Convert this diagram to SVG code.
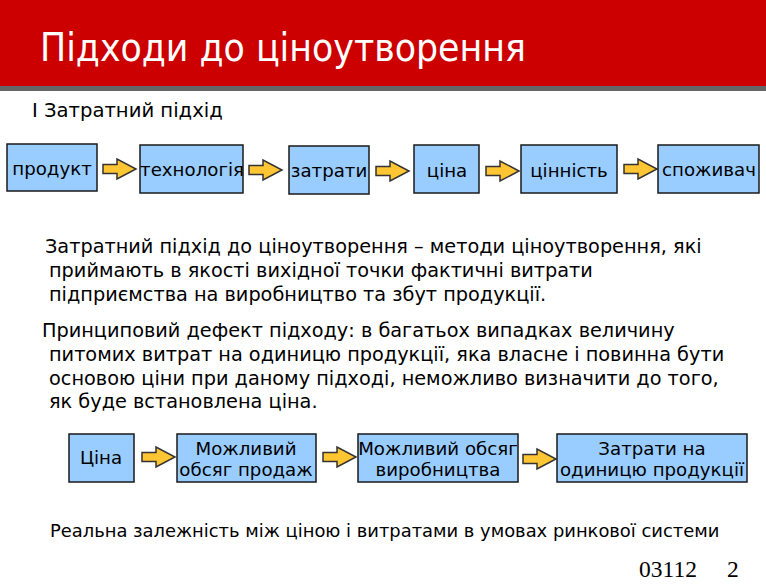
<svg xmlns="http://www.w3.org/2000/svg" width="766" height="586" viewBox="0 0 766 586">
<defs>
<style>
.box{fill:#99ccff;stroke:#1a1a1a;stroke-width:1.5}
.arr{fill:#ffc533;stroke:#333;stroke-width:1.5;stroke-linejoin:miter}
.t{font-family:"DejaVu Sans","Liberation Sans",sans-serif;fill:#000}
.bt{font-family:"DejaVu Sans","Liberation Sans",sans-serif;font-size:19.3px;fill:#000}
.bb{font-family:"DejaVu Sans","Liberation Sans",sans-serif;font-size:18.2px;fill:#000;text-anchor:middle}
</style>
<path id="ar" d="M0,-4.5 H14 V-10 L33,0 L14,10 V4.5 H0 Z"/>
</defs>
<rect x="0" y="0" width="766" height="86" fill="#cc0000"/>
<rect x="0" y="86" width="766" height="5" fill="#666666"/>
<text x="40" y="61" class="t" font-size="38.7" style="fill:#fff;font-stretch:condensed">Підходи до ціноутворення</text>
<text x="32" y="117" class="t" font-size="19.6">І Затратний підхід</text>

<g id="connectors">
<use href="#ar" class="arr" x="103" y="169"/>
<use href="#ar" class="arr" x="249" y="170"/>
<use href="#ar" class="arr" x="376" y="171"/>
<use href="#ar" class="arr" x="486" y="171"/>
<use href="#ar" class="arr" x="624" y="169"/>
<use href="#ar" class="arr" x="142" y="457"/>
<use href="#ar" class="arr" x="323" y="457"/>
<use href="#ar" class="arr" x="523" y="459"/>
</g>

<g id="n1"><rect class="box" x="7" y="144" width="90" height="47"/><text class="bb" x="52" y="175">продукт</text></g>
<g id="n2"><rect class="box" x="140" y="145" width="103" height="48"/><text class="bb" x="192" y="176">технологія</text></g>
<g id="n3"><rect class="box" x="289" y="146" width="80" height="48"/><text class="bb" x="329" y="177">затрати</text></g>
<g id="n4"><rect class="box" x="414" y="145" width="65" height="48"/><text class="bb" x="447" y="177">ціна</text></g>
<g id="n5"><rect class="box" x="521" y="145" width="96" height="48"/><text class="bb" x="569" y="177">цінність</text></g>
<g id="n6"><rect class="box" x="658" y="145" width="101" height="48"/><text class="bb" x="709" y="176">споживач</text></g>

<text class="bt" x="45" y="253">Затратний підхід до ціноутворення – методи ціноутворення, які</text>
<text class="bt" x="49" y="277">приймають в якості вихідної точки фактичні витрати</text>
<text class="bt" x="49" y="301">підприємства на виробництво та збут продукції.</text>
<text class="bt" x="42" y="337">Принциповий дефект підходу: в багатьох випадках величину</text>
<text class="bt" x="49" y="361">питомих витрат на одиницю продукції, яка власне і повинна бути</text>
<text class="bt" x="49" y="385">основою ціни при даному підході, неможливо визначити до того,</text>
<text class="bt" x="49" y="408">як буде встановлена ціна.</text>

<g id="m1"><rect class="box" x="69" y="434" width="65" height="48"/><text class="bb" x="101" y="464">Ціна</text></g>
<g id="m2"><rect class="box" x="177" y="434" width="139" height="48"/><text class="bb" x="246" y="455">Можливий</text><text class="bb" x="246" y="476">обсяг продаж</text></g>
<g id="m3"><rect class="box" x="358" y="434" width="160" height="48"/><text class="bb" x="438" y="455">Можливий обсяг</text><text class="bb" x="438" y="476">виробництва</text></g>
<g id="m4"><rect class="box" x="557" y="434" width="190" height="48"/><text class="bb" x="652" y="455">Затрати на</text><text class="bb" x="652" y="476">одиницю продукції</text></g>

<text class="t" x="50" y="537" font-size="17.9">Реальна залежність між ціною і витратами в умовах ринкової системи</text>
<text x="639" y="577" font-family="Liberation Serif, serif" font-size="23.5">03112</text>
<text x="727" y="577" font-family="Liberation Serif, serif" font-size="23.5">2</text>
</svg>
